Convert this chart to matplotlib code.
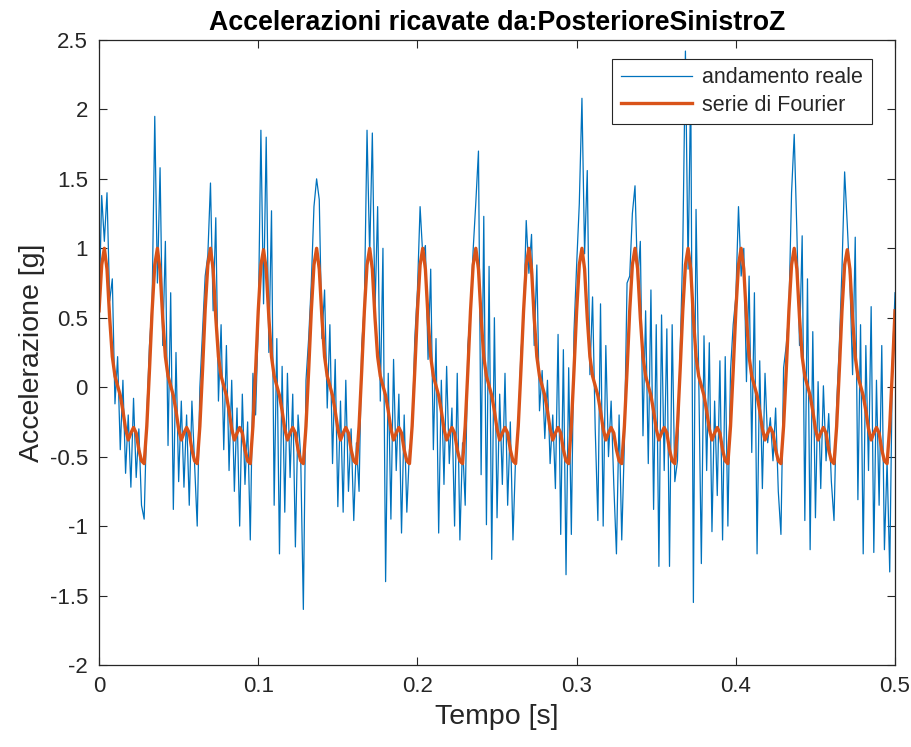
'''Accelerazioni misurate e serie di Fourier (stile MATLAB).'''

import numpy as np
import matplotlib.pyplot as plt

plt.rcParams['font.family'] = ['Liberation Sans', 'DejaVu Sans']
plt.rcParams['axes.unicode_minus'] = False

# Sampling rate [Hz]; one row = one period (20 samples).
fs = 600

real_rows = [
    [0.55, 1.38, 1.05, 1.40, 0.62, 0.78, -0.12, 0.22, -0.45, 0.05, -0.62, -0.20, -0.72, -0.08, -0.65, -0.30, -0.85, -0.95, -0.20, 0.30],
    [0.60, 1.95, 0.75, 1.58, 0.30, 1.05, -0.42, 0.68, -0.88, 0.25, -0.68, -0.10, -0.72, -0.20, -0.85, -0.10, -0.55, -1.00, 0.00, 0.40],
    [0.80, 0.95, 1.47, 0.55, 1.22, -0.10, 0.45, -0.45, 0.30, -0.60, 0.05, -0.75, -0.15, -1.00, -0.05, -0.70, -0.25, -1.10, 0.10, -0.20],
    [0.45, 1.85, 0.60, 1.80, 0.25, 1.27, -0.85, 0.35, -1.20, 0.15, -0.90, 0.10, -0.65, -0.05, -1.15, -0.20, -0.50, -1.60, 0.05, 0.35],
    [0.75, 1.30, 1.50, 1.35, 0.35, 0.70, -0.15, 0.45, -0.55, 0.20, -0.86, -0.10, -0.90, 0.05, -0.75, -0.30, -0.96, -0.40, -0.75, 0.30],
    [0.60, 1.85, 0.95, 1.83, 0.55, 1.30, -0.10, 1.00, -1.40, 0.10, -0.95, 0.20, -0.60, -0.05, -1.05, -0.20, -0.90, -0.45, -0.35, 0.35],
    [0.70, 1.30, 0.95, 1.02, 0.20, 0.85, -0.45, 0.35, -1.05, 0.05, -0.70, 0.15, -0.55, -0.15, -1.00, 0.10, -1.10, -0.40, -0.85, 0.30],
    [0.55, 0.99, 1.33, 1.70, -0.63, 1.23, -0.99, 0.87, -1.24, 0.50, -0.94, -0.05, -0.70, 0.10, -0.85, -0.25, -1.10, -0.50, -0.30, 0.25],
    [0.50, 1.20, 0.82, 1.10, 0.30, 0.88, -0.17, 0.12, -0.37, 0.05, -0.55, -0.20, -0.73, 0.38, -1.06, 0.27, -1.35, 0.14, -1.06, 0.40],
    [0.88, 1.32, 2.08, 0.96, 1.56, 0.09, 0.65, -0.30, -0.96, 0.60, -1.00, 0.30, -0.50, -0.10, -0.70, -1.20, -0.20, -1.10, -0.40, 0.75],
    [0.80, 1.25, 1.45, 0.75, 1.05, -0.35, 0.55, -0.55, 0.70, -0.88, 0.45, -1.29, 0.52, -0.60, 0.42, -1.29, 0.45, -0.68, -0.53, 0.25],
    [1.00, 2.42, 0.85, 2.20, -1.55, 1.28, 0.10, -1.27, 0.37, -0.60, 0.32, -1.04, -0.10, -0.78, 0.19, -1.10, 0.22, -1.00, 0.12, 0.45],
    [0.65, 1.30, 0.80, 1.00, 0.04, 0.80, -0.47, 0.68, -1.20, 0.19, -0.73, 0.10, -0.40, -0.22, -0.53, -0.15, -0.75, -1.06, 0.14, 0.30],
    [0.55, 1.40, 1.82, 1.12, 0.30, 1.09, -0.96, 0.78, -1.17, 0.40, -0.94, 0.04, -0.73, 0.01, -0.53, -0.19, -0.68, -0.96, -0.12, 0.30],
    [0.85, 1.55, 1.17, 0.76, 0.09, 1.08, -0.81, 0.45, -1.20, 0.30, -0.60, 0.58, -1.19, 0.05, -0.85, 0.30, -1.17, -0.53, -1.33, 0.17],
]
real_last = 0.68

# Fourier series [g], same time grid.
fourier_rows = [
    [0.55, 0.88, 1.00, 0.85, 0.50, 0.22, 0.08, 0.01, -0.06, -0.17, -0.30, -0.38, -0.33, -0.29, -0.33, -0.45, -0.53, -0.55, -0.28, 0.12],
    [0.55, 0.88, 1.00, 0.84, 0.50, 0.22, 0.08, 0.01, -0.06, -0.17, -0.30, -0.38, -0.33, -0.29, -0.33, -0.45, -0.53, -0.55, -0.28, 0.12],
    [0.56, 0.88, 1.00, 0.85, 0.50, 0.22, 0.08, 0.01, -0.06, -0.17, -0.30, -0.38, -0.33, -0.29, -0.33, -0.45, -0.53, -0.55, -0.28, 0.12],
    [0.55, 0.88, 0.99, 0.85, 0.50, 0.22, 0.08, 0.01, -0.06, -0.17, -0.30, -0.38, -0.33, -0.29, -0.33, -0.45, -0.53, -0.55, -0.28, 0.12],
    [0.55, 0.88, 1.00, 0.85, 0.50, 0.22, 0.08, 0.01, -0.06, -0.17, -0.30, -0.38, -0.33, -0.29, -0.33, -0.45, -0.53, -0.55, -0.28, 0.12],
    [0.55, 0.88, 1.00, 0.85, 0.50, 0.22, 0.08, 0.01, -0.06, -0.17, -0.30, -0.38, -0.33, -0.29, -0.33, -0.45, -0.53, -0.55, -0.28, 0.12],
    [0.55, 0.88, 1.00, 0.85, 0.50, 0.22, 0.08, 0.01, -0.06, -0.17, -0.30, -0.38, -0.33, -0.29, -0.33, -0.45, -0.53, -0.55, -0.28, 0.12],
    [0.55, 0.88, 1.00, 0.85, 0.50, 0.22, 0.08, 0.01, -0.06, -0.17, -0.30, -0.38, -0.33, -0.29, -0.33, -0.45, -0.53, -0.55, -0.28, 0.12],
    [0.55, 0.88, 1.00, 0.85, 0.50, 0.22, 0.08, 0.01, -0.06, -0.17, -0.30, -0.38, -0.33, -0.29, -0.33, -0.45, -0.53, -0.55, -0.28, 0.12],
    [0.55, 0.88, 1.00, 0.85, 0.50, 0.22, 0.08, 0.01, -0.06, -0.17, -0.30, -0.38, -0.33, -0.29, -0.33, -0.45, -0.53, -0.55, -0.28, 0.12],
    [0.55, 0.88, 1.00, 0.85, 0.50, 0.22, 0.08, 0.01, -0.06, -0.17, -0.30, -0.38, -0.33, -0.29, -0.33, -0.45, -0.53, -0.55, -0.28, 0.12],
    [0.55, 0.88, 1.00, 0.85, 0.50, 0.22, 0.08, 0.01, -0.06, -0.17, -0.30, -0.38, -0.33, -0.29, -0.33, -0.45, -0.53, -0.55, -0.28, 0.12],
    [0.55, 0.88, 1.00, 0.85, 0.50, 0.22, 0.08, 0.01, -0.06, -0.17, -0.30, -0.38, -0.33, -0.29, -0.33, -0.45, -0.53, -0.55, -0.28, 0.12],
    [0.55, 0.88, 1.00, 0.85, 0.50, 0.22, 0.08, 0.01, -0.06, -0.17, -0.30, -0.38, -0.33, -0.29, -0.33, -0.45, -0.53, -0.55, -0.28, 0.12],
    [0.55, 0.88, 0.99, 0.85, 0.50, 0.22, 0.08, 0.01, -0.06, -0.17, -0.30, -0.38, -0.33, -0.29, -0.33, -0.45, -0.53, -0.55, -0.28, 0.12],
]
fourier_last = 0.55

acc_real = np.array([v for row in real_rows for v in row] + [real_last])
acc_fourier = np.array([v for row in fourier_rows for v in row] + [fourier_last])
t = np.arange(len(acc_real)) / fs

x_ticks = [0, 0.1, 0.2, 0.3, 0.4, 0.5]
y_ticks = [-2, -1.5, -1, -0.5, 0, 0.5, 1, 1.5, 2, 2.5]

dark = '#262626'

fig = plt.figure(figsize=(9.12, 7.47), dpi=100)
ax = fig.add_axes([0.1086, 0.1098, 0.8728, 0.8367])

ax.plot(t, acc_real, color='#0072BD', lw=0.9, label='andamento reale')
ax.plot(t, acc_fourier, color='#D95319', lw=2.4, label='serie di Fourier')

ax.set_xlim(0, 0.5)
ax.set_ylim(-2, 2.5)
ax.set_xticks(x_ticks)
ax.set_xticklabels(['0', '0.1', '0.2', '0.3', '0.4', '0.5'])
ax.set_yticks(y_ticks)
ax.set_yticklabels(['-2', '-1.5', '-1', '-0.5', '0', '0.5', '1', '1.5', '2', '2.5'])

# MATLAB-like box with inward ticks on every side.
ax.tick_params(direction='in', length=6, width=0.8, colors=dark,
               labelsize=16, top=True, right=True, pad=8)
for s in ax.spines.values():
    s.set_color(dark)
    s.set_linewidth(0.9)

ax.set_xlabel('Tempo [s]', fontsize=20.5, color=dark, labelpad=5)
ax.set_ylabel('Accelerazione [g]', fontsize=20.5, color=dark, labelpad=3)
ax.set_title('Accelerazioni ricavate da:PosterioreSinistroZ', fontsize=19.3,
             fontweight='bold', color='black', pad=7)

leg = ax.legend(loc='upper right', bbox_to_anchor=(0.971, 0.970),
                borderaxespad=0, fontsize=15.5, fancybox=False,
                framealpha=1, edgecolor=dark, handlelength=3.3,
                handletextpad=0.5, borderpad=0.4, labelspacing=0.3)
leg.get_frame().set_linewidth(0.8)
for txt in leg.get_texts():
    txt.set_color(dark)

fig.savefig('out.png', dpi=100)
